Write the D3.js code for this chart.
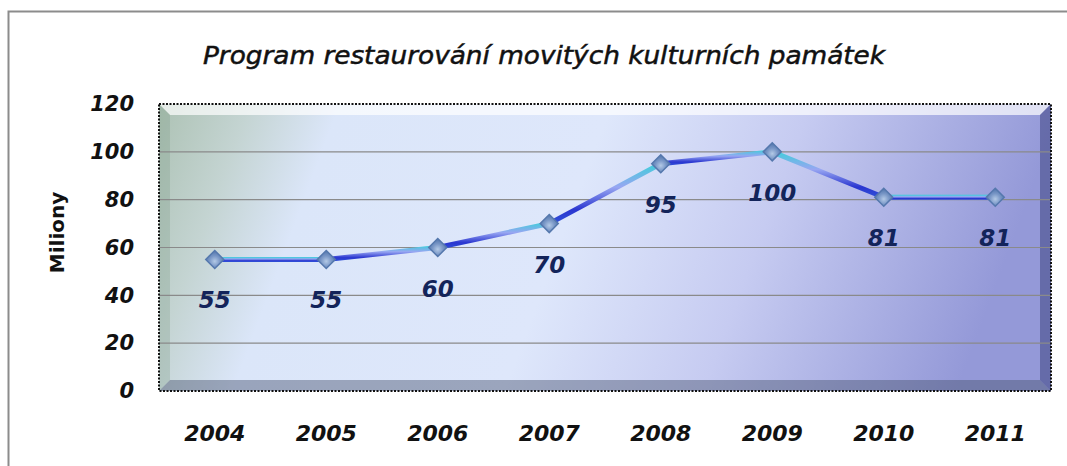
<!DOCTYPE html>
<html>
<head>
<meta charset="utf-8">
<script src="https://cdn.jsdelivr.net/npm/d3@7/dist/d3.min.js"></script>
<style>
  body { margin: 0; background: #fff; }
  text { font-family: "DejaVu Sans", sans-serif; }
</style>
</head>
<body>
<div id="chart"></div>
<script>
const years = ["2004", "2005", "2006", "2007", "2008", "2009", "2010", "2011"];
const values = [55, 55, 60, 70, 95, 100, 81, 81];
const yTicks = [0, 20, 40, 60, 80, 100, 120];
const title = "Program restaurování movitých kulturních památek";
const yLabel = "Miliony";

const W = 1067, H = 466;
const m = { left: 159, top: 104, right: 16, bottom: 75 };
const pw = W - m.left - m.right, ph = H - m.top - m.bottom;

const svg = d3.select("#chart").append("svg")
  .attr("width", W).attr("height", H);

const defs = svg.append("defs");

// plot background: greyish green -> pale blue -> lavender
const bg = defs.append("linearGradient").attr("id", "bg")
  .attr("x1", "0%").attr("y1", "0%").attr("x2", "100%").attr("y2", "12%");
[[0, "#adc2b4"], [0.1, "#c4d4d2"], [0.2, "#dbe6f9"], [0.5, "#dee7fb"], [0.72, "#c6cbf1"], [1, "#9499d8"]]
  .forEach(([o, c]) => bg.append("stop").attr("offset", o).attr("stop-color", c));

const mk = defs.append("radialGradient").attr("id", "mk")
  .attr("cx", "50%").attr("cy", "60%").attr("r", "60%");
[[0, "#b3c9e6"], [0.5, "#7896c6"], [1, "#4f73aa"]]
  .forEach(([o, c]) => mk.append("stop").attr("offset", o).attr("stop-color", c));

// outer chart border (runs off the page right and bottom)
svg.append("rect")
  .attr("x", 8.5).attr("y", 11.5).attr("width", W + 20).attr("height", H + 20)
  .attr("fill", "none").attr("stroke", "#8c8c8c").attr("stroke-width", 2);

svg.append("text")
  .attr("x", 544).attr("y", 64)
  .attr("text-anchor", "middle")
  .attr("font-size", 24).attr("font-style", "italic")
  .attr("textLength", 682).attr("lengthAdjust", "spacingAndGlyphs")
  .attr("fill", "#111").attr("stroke", "#111").attr("stroke-width", 0.5)
  .text(title);

const x = d3.scaleBand().domain(years).range([m.left, m.left + pw]);
const y = d3.scaleLinear().domain([0, 120]).range([m.top + ph, m.top]);

const g = svg.append("g");
g.append("rect")
  .attr("x", m.left).attr("y", m.top).attr("width", pw).attr("height", ph)
  .attr("fill", "url(#bg)");

// bevel edges
const L = m.left, T = m.top, R = m.left + pw, B = m.top + ph, bv = 11;
const bevel = [
  { pts: [[L, T], [R, T], [R - bv, T + bv], [L + bv, T + bv]], fill: "#ffffff", op: 0.7 },
  { pts: [[L, T], [L + bv, T + bv], [L + bv, B - bv], [L, B]], fill: "#7f9a88", op: 0.3 },
  { pts: [[L, B], [L + bv, B - bv], [R - bv, B - bv], [R, B]], fill: "#4a5470", op: 0.45 },
  { pts: [[R, T], [R, B], [R - bv, B - bv], [R - bv, T + bv]], fill: "#2c3270", op: 0.45 }
];
g.selectAll(".bevel").data(bevel).enter().append("polygon")
  .attr("points", d => d.pts.map(p => p.join(",")).join(" "))
  .attr("fill", d => d.fill).attr("opacity", d => d.op);

// gridlines
g.selectAll(".grid").data(yTicks.filter(t => t > 0 && t < 120)).enter().append("line")
  .attr("x1", L).attr("x2", R)
  .attr("y1", d => y(d)).attr("y2", d => y(d))
  .attr("stroke", "#8a8a8a").attr("stroke-width", 1.2);

g.append("rect")
  .attr("x", L).attr("y", T).attr("width", pw).attr("height", ph)
  .attr("fill", "none").attr("stroke", "#111").attr("stroke-width", 2)
  .attr("stroke-dasharray", "2,1.5");

// axes
const yAxis = svg.append("g").attr("transform", `translate(${L - 25},0)`)
  .call(d3.axisLeft(y).tickValues(yTicks).tickSize(0).tickPadding(0));
yAxis.select(".domain").remove();
yAxis.selectAll("text")
  .attr("font-size", 21).attr("font-weight", "bold").attr("font-style", "italic")
  .attr("fill", "#111").attr("font-family", "DejaVu Sans, sans-serif");

const xAxis = svg.append("g").attr("transform", `translate(0,441)`)
  .call(d3.axisBottom(x).tickSize(0).tickPadding(0));
xAxis.select(".domain").remove();
xAxis.selectAll("text")
  .attr("y", 0).attr("dy", null)
  .attr("font-size", 22).attr("font-weight", "bold").attr("font-style", "italic")
  .attr("fill", "#111").attr("font-family", "DejaVu Sans, sans-serif");

svg.append("text")
  .attr("transform", `translate(64,${(T + B) / 2 - 15}) rotate(-90)`)
  .attr("text-anchor", "middle")
  .attr("font-size", 20).attr("font-weight", "bold").attr("fill", "#111")
  .text(yLabel);

// series: one segment per pair, each with a top-to-bottom gradient
const pts = years.map((yr, i) => ({ yr, v: values[i] }));
const cx = d => x(d.yr) + x.bandwidth() / 2;
const segs = d3.pairs(pts);

segs.forEach(([a, b], i) => {
  const top = Math.min(y(a.v), y(b.v)) - 2.5, bot = Math.max(y(a.v), y(b.v)) + 2.5;
  const sg = defs.append("linearGradient").attr("id", "seg" + i)
    .attr("gradientUnits", "userSpaceOnUse")
    .attr("x1", 0).attr("x2", 0).attr("y1", top).attr("y2", bot);
  [[0, "#35d3d8"], [0.4, "#98a6f2"], [0.75, "#2a36d0"], [1, "#3157da"]]
    .forEach(([o, c]) => sg.append("stop").attr("offset", o).attr("stop-color", c));
});

svg.selectAll(".seg").data(segs).enter().append("line")
  .attr("x1", d => cx(d[0])).attr("y1", d => y(d[0].v))
  .attr("x2", d => cx(d[1])).attr("y2", d => y(d[1].v))
  .attr("stroke", (d, i) => `url(#seg${i})`).attr("stroke-width", 5)
  .attr("stroke-linecap", "round");

const dm = 9;
svg.selectAll(".pt").data(pts).enter().append("path")
  .attr("d", d => `M${cx(d)},${y(d.v) - dm} L${cx(d) + dm},${y(d.v)} L${cx(d)},${y(d.v) + dm} L${cx(d) - dm},${y(d.v)} Z`)
  .attr("fill", "url(#mk)").attr("stroke", "#5578ad").attr("stroke-width", 1.5);

svg.selectAll(".lbl").data(pts).enter().append("text")
  .attr("x", cx).attr("y", d => y(d.v) + 49)
  .attr("text-anchor", "middle")
  .attr("font-size", 23).attr("font-weight", "bold").attr("font-style", "italic")
  .attr("fill", "#13245a")
  .text(d => d.v);
</script>
</body>
</html>
